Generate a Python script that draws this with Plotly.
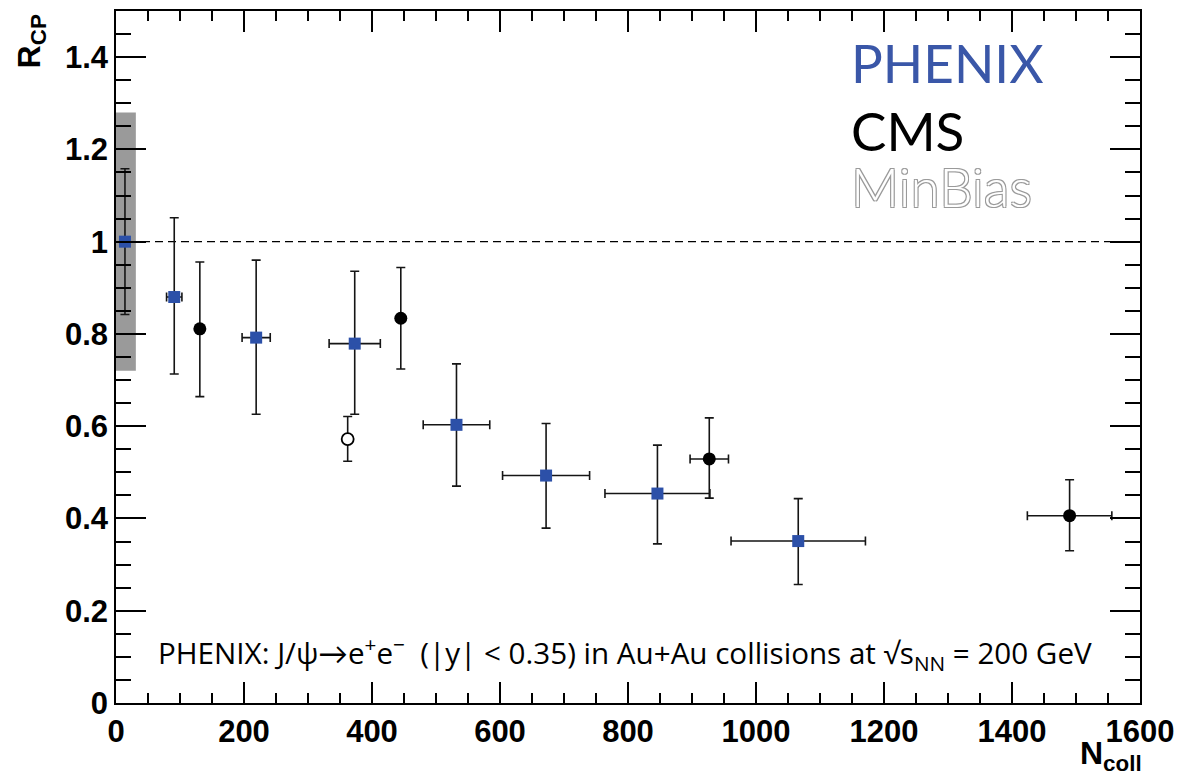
import plotly.graph_objects as go

# ---------------- data ----------------
phenix_ncoll = [14, 91, 219, 373, 532, 672, 846, 1066]
phenix_ncoll_err = [0, 12, 22, 40, 52, 68, 82, 105]
phenix_rcp = [1.00, 0.880, 0.792, 0.779, 0.603, 0.493, 0.454, 0.351]
phenix_err_up = [0.158, 0.172, 0.168, 0.157, 0.132, 0.113, 0.105, 0.092]
phenix_err_dn = [0.158, 0.167, 0.166, 0.153, 0.133, 0.114, 0.109, 0.094]

cms_ncoll = [131, 445, 927, 1490]
cms_ncoll_err = [0, 0, 30, 66]
cms_rcp = [0.811, 0.834, 0.529, 0.406]
cms_err_up = [0.145, 0.110, 0.089, 0.078]
cms_err_dn = [0.147, 0.110, 0.085, 0.076]

cms_open_ncoll = [362]
cms_open_rcp = [0.572]
cms_open_err_up = [0.049]
cms_open_err_dn = [0.048]

norm_box_x = [0, 31]
norm_box_y = [0.72, 1.28]
ref_level = 1.0

x_ticks = [0, 200, 400, 600, 800, 1000, 1200, 1400, 1600]
y_ticks = [0, 0.2, 0.4, 0.6, 0.8, 1.0, 1.2, 1.4]

# ---------------- styles ----------------
BLUE = "#2c50a8"
ERR = dict(color="#151515", thickness=1.6, width=4.5)

fig = go.Figure()

fig.add_trace(go.Scatter(
    x=cms_ncoll, y=cms_rcp, mode="markers",
    marker=dict(symbol="circle", size=13, color="black"),
    error_y=dict(type="data", symmetric=False, array=cms_err_up, arrayminus=cms_err_dn, **ERR),
    error_x=dict(type="data", array=cms_ncoll_err, **ERR),
    showlegend=False, cliponaxis=False,
))
fig.add_trace(go.Scatter(
    x=cms_open_ncoll, y=cms_open_rcp, mode="markers",
    marker=dict(symbol="circle", size=12, color="white", line=dict(color="black", width=1.8)),
    error_y=dict(type="data", symmetric=False, array=cms_open_err_up, arrayminus=cms_open_err_dn, **ERR),
    showlegend=False, cliponaxis=False,
))
fig.add_trace(go.Scatter(
    x=phenix_ncoll, y=phenix_rcp, mode="markers",
    marker=dict(symbol="square", size=12, color=BLUE),
    error_y=dict(type="data", symmetric=False, array=phenix_err_up, arrayminus=phenix_err_dn, **ERR),
    error_x=dict(type="data", array=phenix_ncoll_err, **ERR),
    showlegend=False, cliponaxis=False,
))

fig.add_shape(type="line", xref="x", yref="y", x0=x_ticks[0], x1=x_ticks[-1],
              y0=ref_level, y1=ref_level, layer="below",
              line=dict(color="black", width=1.4, dash="8px,5px"))
fig.add_shape(type="rect", xref="x", yref="y", x0=norm_box_x[0], x1=norm_box_x[1],
              y0=norm_box_y[0], y1=norm_box_y[1], layer="below",
              line=dict(width=0), fillcolor="#9a9a9a")

tickfont = dict(family="Liberation Sans, Arial, sans-serif", size=31, color="black", weight="bold")

fig.update_xaxes(
    range=[0, 1600], tickvals=x_ticks, ticks="inside", ticklen=21, tickwidth=1.5, tickcolor="black",
    minor=dict(ticks="inside", dtick=50, ticklen=10, tickwidth=1.5, tickcolor="black"),
    showline=True, linewidth=1.6, linecolor="black", mirror="ticks",
    showgrid=False, zeroline=False, tickfont=tickfont,
)
fig.update_yaxes(
    range=[0, 1.5], tickvals=y_ticks, ticks="inside", ticklen=30, tickwidth=1.5, tickcolor="black",
    minor=dict(ticks="inside", dtick=0.05, ticklen=15, tickwidth=1.5, tickcolor="black"),
    showline=True, linewidth=1.6, linecolor="black", mirror="ticks",
    showgrid=False, zeroline=False, tickfont=tickfont,
)

gill = "Lato, 'Open Sans', sans-serif"
annotations = [
    dict(text="<b>R<sub>CP</sub></b>", textangle=-90, x=-0.083, y=0.998, xanchor="center", yanchor="top",
         font=dict(family="Liberation Sans, Arial, sans-serif", size=32, color="black")),
    dict(text="<b>N<sub>coll</sub></b>", x=1.004, y=-0.043, xanchor="right", yanchor="top",
         font=dict(family="Liberation Sans, Arial, sans-serif", size=32, color="black")),
    dict(text="PHENIX", x=0.716, y=0.926, xanchor="left", yanchor="middle",
         font=dict(family=gill, size=53, color="#3a57a8")),
    dict(text="CMS", x=0.716, y=0.827, xanchor="left", yanchor="middle",
         font=dict(family=gill, size=53, color="black")),
    dict(text="MinBias", x=0.716, y=0.747, xanchor="left", yanchor="middle",
         font=dict(family=gill, size=53, color="white", weight=300,
                   shadow="1px 1px 0 #9a9a9a, -1px -1px 0 #9a9a9a, 1px -1px 0 #9a9a9a, -1px 1px 0 #9a9a9a")),
    dict(text="PHENIX: J/ψ→e<sup>+</sup>e<sup>−</sup>  (|y| &lt; 0.35) in Au+Au collisions at √s<sub>NN</sub> = 200 GeV",
         x=0.039, y=0.072, xanchor="left", yanchor="middle",
         font=dict(family="'Open Sans', Lato, sans-serif", size=29.6, color="black")),
]
for a in annotations:
    a.update(xref="paper", yref="paper", showarrow=False)

fig.update_layout(
    width=1192, height=779,
    margin=dict(l=116, r=52, t=9, b=76),
    paper_bgcolor="white", plot_bgcolor="white",
    annotations=annotations,
)

fig.write_html("out.html")
